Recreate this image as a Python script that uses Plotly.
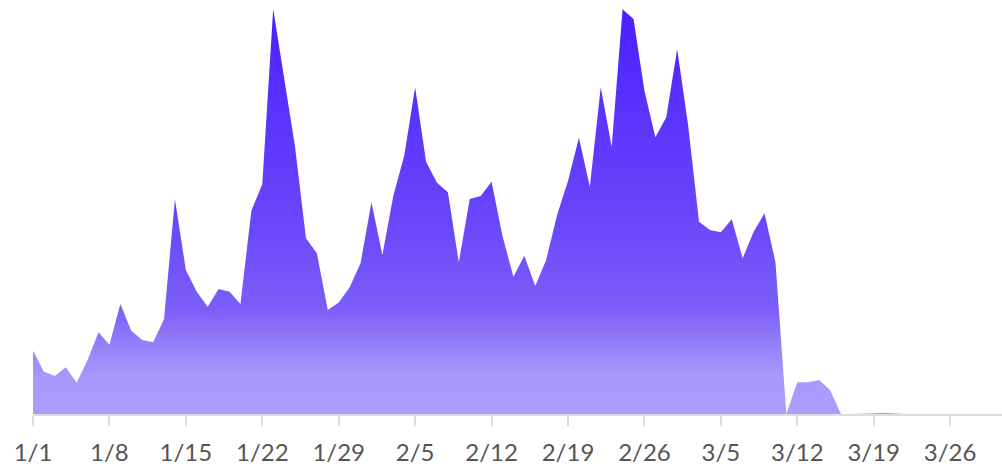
import datetime as dt
import plotly.graph_objects as go

start_date = dt.date(2023, 1, 1)
values = [63.3, 42.3, 38, 46.7, 31.3, 54, 81.7, 69.3, 110, 83.3,
          74, 71.7, 94.7, 214.7, 144, 122.3, 107.3, 125, 122.3, 110,
          203.3, 229.7, 405, 335.7, 267.3, 175.7, 160.7, 104, 111.5, 126.7,
          150.7, 211.7, 159, 218, 258.3, 326.7, 252.3, 231.3, 221.7, 151.7,
          215, 218, 232.3, 178, 137.3, 158.3, 128, 154, 199, 233,
          276.3, 227.3, 326.7, 267.3, 404.7, 395, 323.3, 276.7, 296.7, 364.7,
          289, 192.3, 184, 181.7, 194.7, 155.7, 182.3, 200.7, 151.7, 0,
          31.7, 31.7, 34, 24, 0, 0, 0, 0.7, 1.3, 0.5,
          0, 0, 0, 0, 0, 0, 0, 0, 0]
dates = [start_date + dt.timedelta(days=i) for i in range(len(values))]
tick_dates = [start_date + dt.timedelta(days=7 * k) for k in range(13)]
tick_labels = [f"{d.month}/{d.day}" for d in tick_dates]

fig = go.Figure()
fig.add_trace(go.Scatter(
    x=dates, y=values, mode="lines", fill="tozeroy",
    line=dict(width=0, color="rgba(0,0,0,0)"),
    fillgradient=dict(
        type="vertical",
        start=0, stop=405,
        colorscale=[
            [0.0, "#ab9dfd"],
            [0.09, "#a998fc"],
            [0.17, "#9680fa"],
            [0.26, "#7b5ef8"],
            [0.5, "#6844fb"],
            [0.75, "#5a33fd"],
            [1.0, "#4a1fff"],
        ],
    ),
    hoverinfo="skip",
))

fig.update_layout(
    width=1002, height=467,
    margin=dict(l=33, r=0, t=0, b=53),
    plot_bgcolor="white", paper_bgcolor="white",
    showlegend=False,
    font=dict(family="Source Sans Pro, Lato, sans-serif", size=24, color="#555555"),
)
fig.update_xaxes(
    range=[dt.datetime(2023, 1, 1), dt.datetime(2023, 3, 30, 18, 0)],
    tickvals=tick_dates, ticktext=tick_labels,
    showgrid=False, zeroline=False,
    showline=True, linecolor="#dddddd", linewidth=2,
    ticks="outside", ticklen=10, tickcolor="#dddddd", tickwidth=2,
    ticklabelstandoff=6,
    tickfont=dict(size=24, color="#555555"),
)
fig.update_yaxes(
    range=[0, 414], visible=False, showgrid=False, zeroline=False,
)
fig.write_html("out.html", config={"displayModeBar": False},
               post_script="document.body.style.margin='0';")
